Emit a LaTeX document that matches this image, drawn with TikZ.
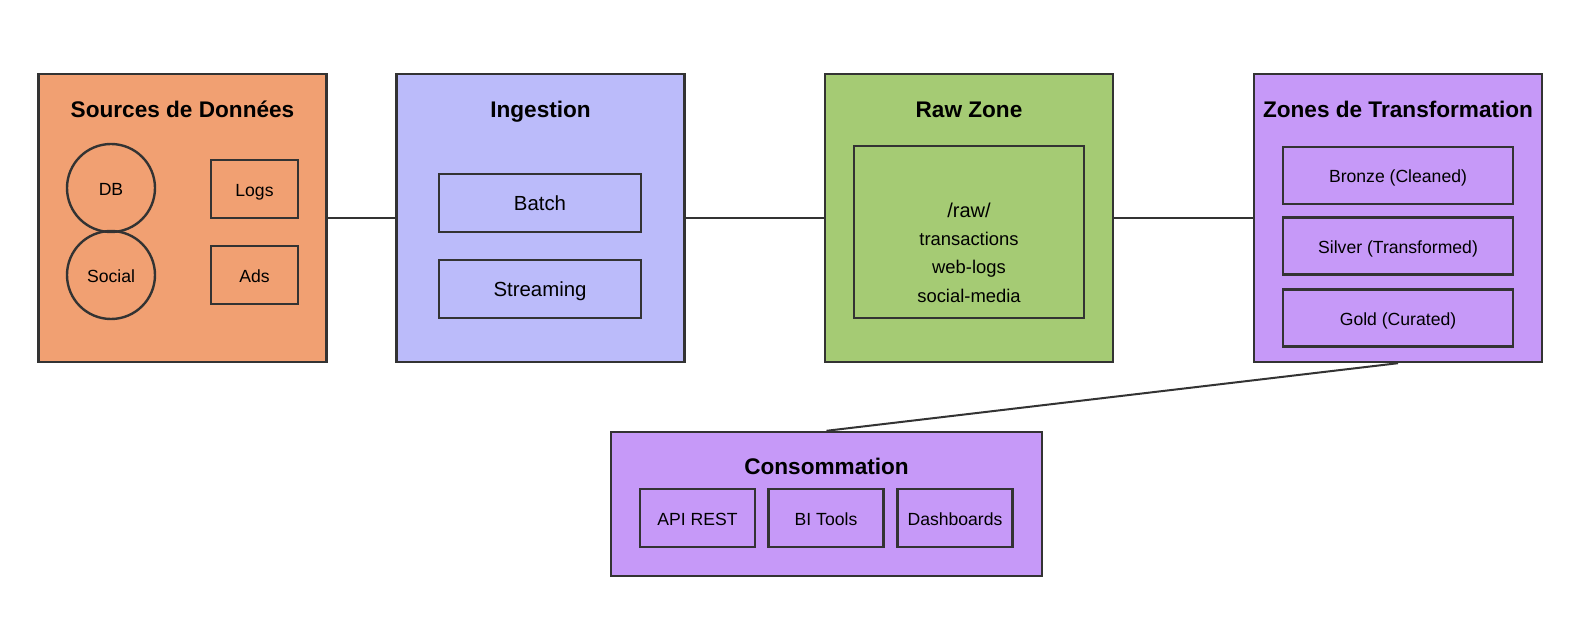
\documentclass[tikz,border=0pt]{standalone}
\usepackage{fontspec}
\setmainfont{Liberation Sans}
\usepackage{tikz}
\definecolor{linegray}{RGB}{51,51,51}
\definecolor{srcfill}{RGB}{241,160,114}
\definecolor{ingfill}{RGB}{187,187,250}
\definecolor{rawfill}{RGB}{165,203,116}
\definecolor{trfill}{RGB}{198,153,248}
\tikzstyle{zone}=[draw=linegray,line width=1.2pt,minimum width=144pt,minimum height=144pt,inner sep=0pt]
\tikzstyle{zone title}=[anchor=base,font=\fontsize{11.3}{13.5}\selectfont\bfseries]
\tikzstyle{item}=[draw=linegray,line width=1.2pt,inner sep=0pt,text height=0.716em,text depth=0pt,font=\fontsize{8.8}{10.5}\selectfont]
\tikzstyle{store}=[item,circle,minimum size=44pt]
\tikzstyle{lane}=[item,minimum width=101pt,minimum height=29pt,font=\fontsize{10.2}{12}\selectfont]
\tikzstyle{layer}=[item,minimum width=115pt,minimum height=28.5pt]
\tikzstyle{small box}=[item,minimum width=43.5pt,minimum height=29pt]
\tikzstyle{use box}=[item,minimum width=57.5pt,minimum height=29pt]
\tikzstyle{folder text}=[anchor=base,font=\fontsize{9.2}{11}\selectfont]
\tikzstyle{link}=[draw=linegray,line width=1pt,-]

\begin{document}
\begin{tikzpicture}[x=0.5pt,y=-0.5pt]
    \useasboundingbox (0,0) rectangle (1590,636);
    % The four zones of the pipeline, then the consumer zone
    \node[zone,fill=srcfill] (sources) at (182.5,218) {};
    \node[zone,fill=ingfill] (ingest) at (540.5,218) {};
    \node[zone,fill=rawfill] (raw) at (969,218) {};
    \node[zone,fill=trfill] (transfo) at (1398,218) {};
    \node[zone,fill=trfill,minimum width=215.5pt,minimum height=72pt] (conso) at (826.5,504) {};

    % Titles
    \foreach \pos/\name/\text in {{(182.5,118)/t_src/Sources de Données}, {(540.5,118)/t_ing/Ingestion},
        {(969,118)/t_raw/Raw Zone}, {(1398,118)/t_tr/Zones de Transformation}, {(826.5,474)/t_cons/Consommation}}
        \node[zone title] (\name) at \pos {\text};

    % Data sources
    \foreach \pos/\name/\text in {{(111,188)/db/DB}, {(111,275)/social/Social}}
        \node[store] (\name) at \pos {\text};
    \foreach \pos/\name/\text in {{(254.5,189)/logs/Logs}, {(254.5,275)/ads/Ads}}
        \node[small box] (\name) at \pos {\text};

    % Ingestion modes
    \foreach \pos/\name/\text in {{(540,203)/batch/Batch}, {(540,289)/stream/Streaming}}
        \node[lane] (\name) at \pos {\text};

    % Raw storage folder
    \node[item,minimum width=115pt,minimum height=86pt] (folder) at (969,232) {};
    \node[folder text,font=\fontsize{10}{12}\selectfont] (rawdir) at (969,218) {/raw/};
    \foreach \pos/\name/\text in {{(969,245.5)/f_tx/transactions}, {(969,274)/f_web/web-logs}, {(969,303)/f_soc/social-media}}
        \node[folder text] (\name) at \pos {\text};

    % Medallion layers
    \foreach \pos/\name/\text in {{(1398,175.5)/bronze/Bronze (Cleaned)}, {(1398,246)/silver/Silver (Transformed)}, {(1398,318)/gold/Gold (Curated)}}
        \node[layer] (\name) at \pos {\text};

    % Consumers
    \foreach \pos/\name/\text in {{(697.5,518)/api/API REST}, {(826,518)/bi/BI Tools}, {(955,518)/dash/Dashboards}}
        \node[use box] (\name) at \pos {\text};

    % Connect zones
    \foreach \source/\dest in {sources/ingest, ingest/raw, raw/transfo}
        \path[link] (\source) -- (\dest);
    \path[link] (transfo.south) -- (conso.north);
\end{tikzpicture}
\end{document}
